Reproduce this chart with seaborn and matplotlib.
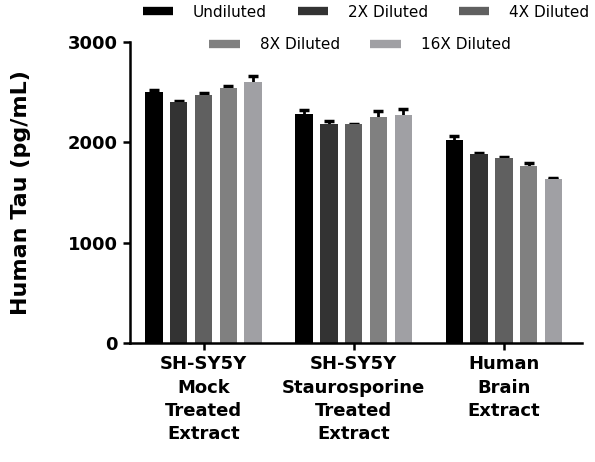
import matplotlib
matplotlib.use('Agg')
import matplotlib.pyplot as plt
from matplotlib.lines import Line2D
import seaborn as sns
import pandas as pd

# values
groups = ['SH-SY5Y\nMock\nTreated\nExtract',
          'SH-SY5Y\nStaurosporine\nTreated\nExtract',
          'Human\nBrain\nExtract']
dilutions = ['Undiluted', '2X Diluted', '4X Diluted', '8X Diluted', '16X Diluted']
means = [
    [2500, 2400, 2470, 2540, 2600],
    [2280, 2185, 2180, 2250, 2270],
    [2020, 1880, 1840, 1765, 1635],
]
errs = [
    [25, 15, 25, 22, 60],
    [40, 30, 5, 60, 65],
    [45, 15, 15, 25, 5],
]
colors = ['#000000', '#333333', '#606060', '#808080', '#a0a0a4']

rows = []
for g, m_row, e_row in zip(groups, means, errs):
    for d, m, e in zip(dilutions, m_row, e_row):
        rows.append({'group': g, 'dilution': d, 'value': m, 'err': e})
df = pd.DataFrame(rows)

sns.set_style('ticks')
plt.rcParams['font.family'] = ['DejaVu Sans']
plt.rcParams.update({'text.color': 'black', 'axes.labelcolor': 'black',
                     'xtick.color': 'black', 'ytick.color': 'black',
                     'axes.edgecolor': 'black'})

fig = plt.figure(figsize=(5.95, 4.62), dpi=100)
ax = fig.add_axes([0.2185, 0.2576, 0.7595, 0.6515])

sns.barplot(data=df, x='group', y='value', hue='dilution', hue_order=dilutions,
            palette=colors, errorbar=None, width=0.825, gap=0.3,
            saturation=1, legend=False, ax=ax, zorder=2, linewidth=0)

# error bars behind the bars, so only the upper half shows
for i, d in enumerate(dilutions):
    sub = df[df['dilution'] == d]
    for patch, (_, r) in zip(ax.containers[i], sub.iterrows()):
        xc = patch.get_x() + patch.get_width() / 2
        ax.errorbar(xc, r['value'], yerr=r['err'], fmt='none',
                    ecolor='black', elinewidth=2, capsize=3.3, capthick=2.5,
                    zorder=1)

ax.set_ylim(0, 3000)
ax.set_xlim(-0.49, 2.52)
ax.set_yticks([0, 1000, 2000, 3000])
ax.set_xlabel('')
ax.set_ylabel('Human Tau (pg/mL)', fontsize=16, fontweight='bold', labelpad=26)
ax.tick_params(axis='both', width=1.8, length=5, labelsize=13, pad=4)
for lab in ax.get_xticklabels() + ax.get_yticklabels():
    lab.set_fontweight('bold')
for lab in ax.get_xticklabels():
    lab.set_linespacing(1.38)
for s in ['left', 'bottom']:
    ax.spines[s].set_linewidth(1.8)
sns.despine(ax=ax)

handles = [Line2D([0], [0], color=c, lw=6, solid_capstyle='butt') for c in colors]
leg_kw = dict(loc='center', frameon=False, fontsize=11, handlelength=2.0,
              columnspacing=2.0, handletextpad=1.3)
fig.legend(handles[:3], dilutions[:3], ncol=3,
           bbox_to_anchor=(0.615, 0.974), **leg_kw)
fig.legend(handles[3:], dilutions[3:], ncol=2,
           bbox_to_anchor=(0.605, 0.903), **leg_kw)

fig.savefig('out.png', dpi=100)
